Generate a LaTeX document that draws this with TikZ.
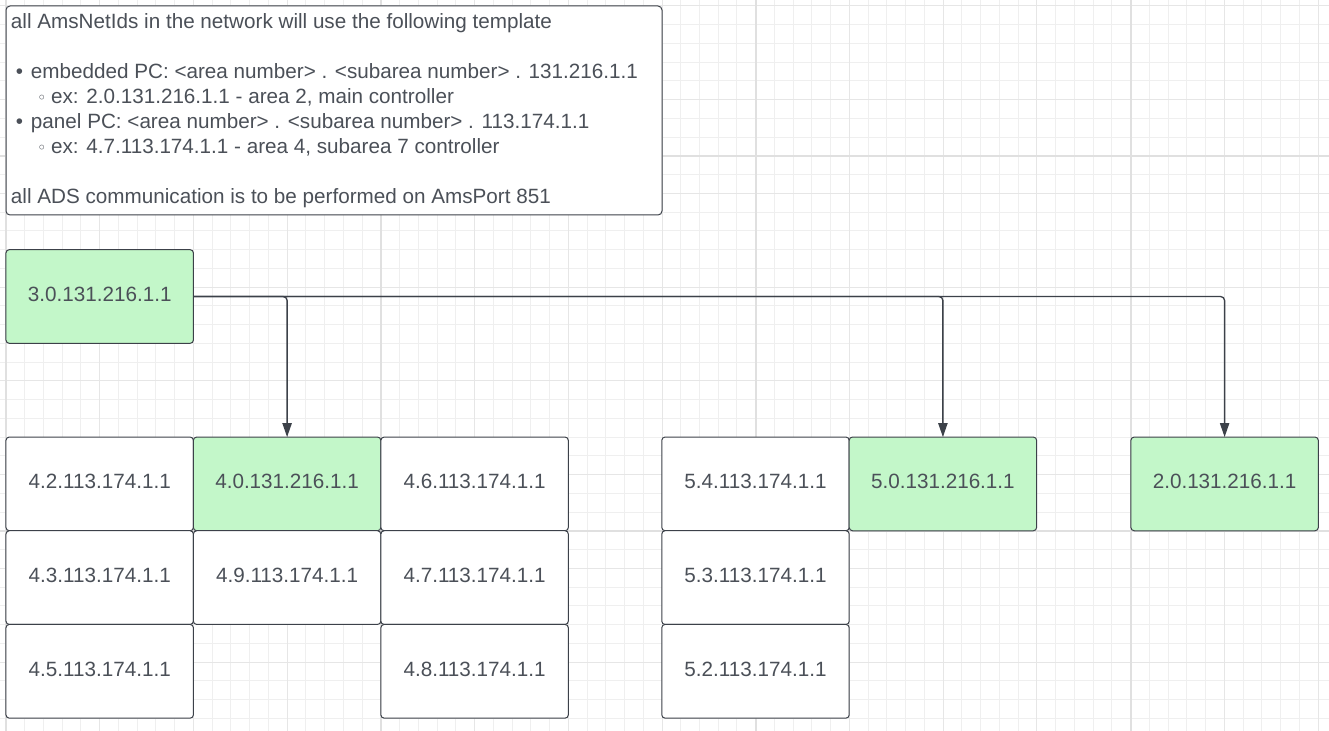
\documentclass[tikz,border=0pt]{standalone}
\usepackage{fontspec}
\setmainfont{Liberation Sans}
\newfontfamily\symfont{DejaVu Sans}
\usetikzlibrary{arrows.meta}
\definecolor{edgecol}{HTML}{3C4149}
\definecolor{txtcol}{HTML}{4B5058}
\definecolor{greenfill}{HTML}{C3F7C9}
\definecolor{gridminor}{HTML}{EFEFEF}
\definecolor{gridmid}{HTML}{E6E6E6}
\definecolor{gridmajor}{HTML}{E0E0E0}
\tikzset{
  pcbox/.style={rectangle, draw=edgecol, line width=0.75pt, fill=white,
    rounded corners=2.5pt, minimum width=140.6pt, minimum height=70.3pt,
    inner sep=0pt, outer sep=0pt, text=txtcol, text depth=3.4pt,
    font=\fontsize{15.5}{18}\selectfont},
  greenbox/.style={pcbox, fill=greenfill},
  infoline/.style={anchor=base west, inner sep=0pt, outer sep=0pt, text=txtcol,
    font=\fontsize{15.5}{18}\selectfont},
  conn/.style={draw=edgecol, line width=1pt, rounded corners=3pt,
    -{Triangle[width=7pt,length=10.5pt]}},
}
\begin{document}
\begin{tikzpicture}[x=0.75pt,y=-0.75pt]
\useasboundingbox (0,0) rectangle (1329,731);
\fill[white] (0,0) rectangle (1329,731);
\begin{scope}
\clip (0,0) rectangle (1329,731);
\foreach \i in {0,...,71} {
  \pgfmathsetmacro{\xx}{6+\i*18.743}
  \draw[gridminor, line width=0.75pt] (\xx,0) -- (\xx,731);
}
\foreach \j in {0,...,39} {
  \pgfmathsetmacro{\yy}{6+\j*18.743}
  \draw[gridminor, line width=0.75pt] (0,\yy) -- (1329,\yy);
}
\foreach \i in {0,5,...,70} {
  \pgfmathsetmacro{\xx}{6+\i*18.743}
  \draw[gridmid, line width=0.75pt] (\xx,0) -- (\xx,731);
}
\foreach \j in {0,5,...,40} {
  \pgfmathsetmacro{\yy}{6+\j*18.743}
  \draw[gridmid, line width=0.75pt] (0,\yy) -- (1329,\yy);
}
\foreach \i in {0,20,40,60} {
  \pgfmathsetmacro{\xx}{6+\i*18.743}
  \draw[gridmajor, line width=1.5pt] (\xx,0) -- (\xx,731);
}
\foreach \j in {8,28} {
  \pgfmathsetmacro{\yy}{6+\j*18.743}
  \draw[gridmajor, line width=1.5pt] (0,\yy) -- (1329,\yy);
}
\end{scope}

% information box
\draw[edgecol, line width=0.75pt, fill=white, rounded corners=3pt] (6,6) rectangle (662,215);
\node[infoline] (t1) at (11,28.5) {all AmsNetIds in the network will use the following template};
\node[infoline] (t2) at (16,78.5) {•\hspace{5.8pt}embedded PC: <area number> . <subarea number> . 131.216.1.1};
\node[infoline] (t3) at (37,103.5) {{\symfont\fontsize{12}{14}\selectfont ◦}\hspace{3.5pt}ex: 2.0.131.216.1.1 - area 2, main controller};
\node[infoline] (t4) at (16,128.5) {•\hspace{5.8pt}panel PC: <area number> . <subarea number> . 113.174.1.1};
\node[infoline] (t5) at (37,153.5) {{\symfont\fontsize{12}{14}\selectfont ◦}\hspace{3.5pt}ex: 4.7.113.174.1.1 - area 4, subarea 7 controller};
\node[infoline] (t6) at (11,203.5) {all ADS communication is to be performed on AmsPort 851};

% boxes
\node[greenbox] (n30) at (99.7,296.5) {3.0.131.216.1.1};

\node[pcbox]    (n42) at (99.7,483.9) {4.2.113.174.1.1};
\node[greenbox] (n40) at (287.1,483.9) {4.0.131.216.1.1};
\node[pcbox]    (n46) at (474.6,483.9) {4.6.113.174.1.1};
\node[pcbox]    (n43) at (99.7,577.6) {4.3.113.174.1.1};
\node[pcbox]    (n49) at (287.1,577.6) {4.9.113.174.1.1};
\node[pcbox]    (n47) at (474.6,577.6) {4.7.113.174.1.1};
\node[pcbox]    (n45) at (99.7,671.3) {4.5.113.174.1.1};
\node[pcbox]    (n48) at (474.6,671.3) {4.8.113.174.1.1};

\node[pcbox]    (n54) at (755.5,483.9) {5.4.113.174.1.1};
\node[greenbox] (n50) at (942.9,483.9) {5.0.131.216.1.1};
\node[pcbox]    (n53) at (755.5,577.6) {5.3.113.174.1.1};
\node[pcbox]    (n52) at (755.5,671.3) {5.2.113.174.1.1};

\node[greenbox] (n20) at (1224.6,483.9) {2.0.131.216.1.1};

% connectors
\draw[conn] (n30.east) -| (n20.north);
\draw[conn] (n30.east) -| (n50.north);
\draw[conn] (n30.east) -| (n40.north);
\end{tikzpicture}
\end{document}
